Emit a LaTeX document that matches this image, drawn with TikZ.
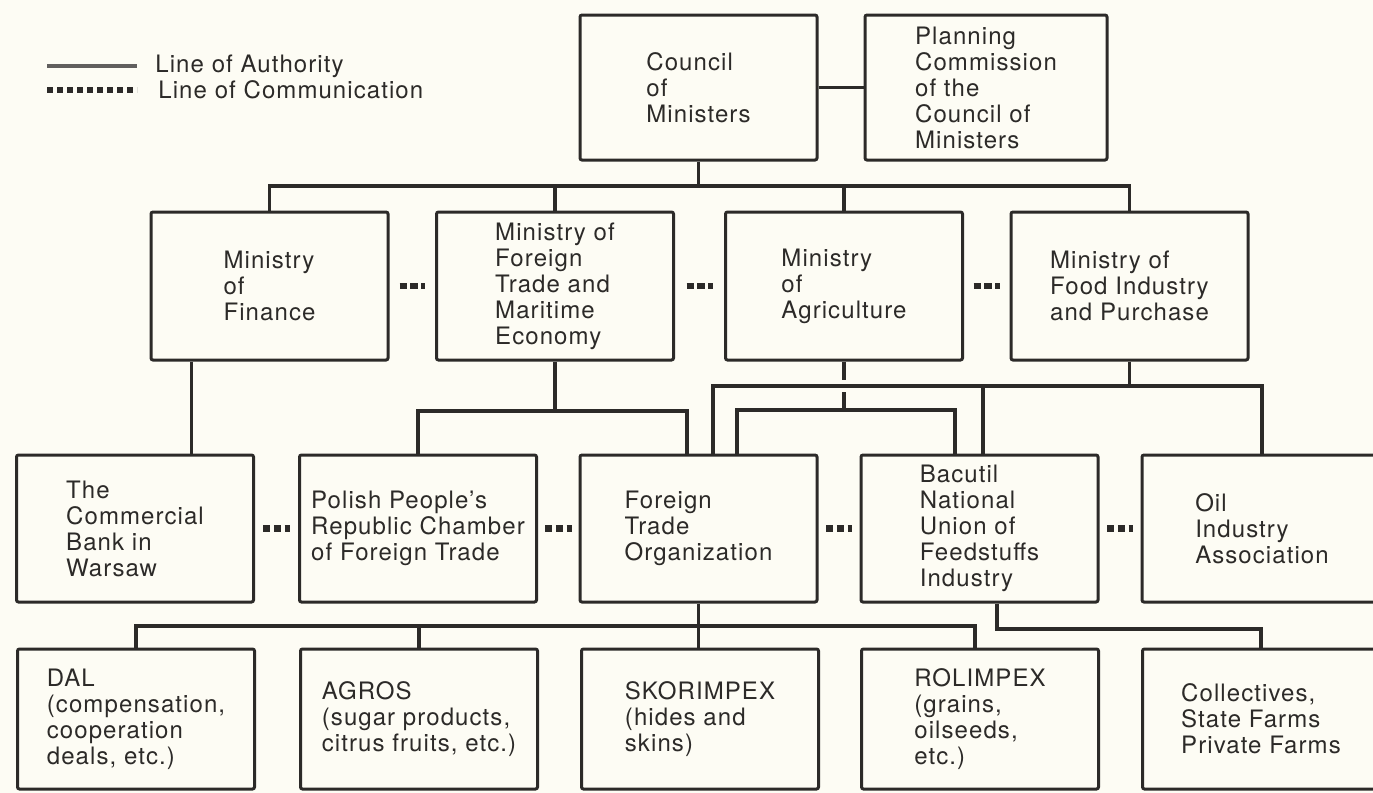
\documentclass[tikz,border=0pt]{standalone}
\usepackage{fontspec}
\setmainfont{TeX Gyre Heros}[LetterSpace=4.5]
\usetikzlibrary{calc}

\definecolor{paper}{RGB}{253,252,244}
\definecolor{ink}{RGB}{44,42,40}

\tikzset{
  box/.style={draw=ink, text=ink, line width=1.5pt, rounded corners=1pt,
    align=left, minimum width=118.5pt, inner sep=0pt},
  auth/.style={draw=ink, line width=1.7pt},
  comm/.style={draw=ink, line width=3.2pt, dash pattern=on 3.6pt off 1.8pt,
    shorten <=#1, shorten >=#1},
  comm/.default=0pt,
}

\begin{document}
\begin{tikzpicture}[x=0.5pt,y=-0.5pt,font=\fontsize{12}{13}\selectfont]

      \fill[paper] (0,0) rectangle (1373,793);
      \useasboundingbox (0,0) rectangle (1373,793);

      % key
      \begin{scope}[every node/.style={anchor=west, inner sep=0pt, text=ink}]
        \node (authkey) at (155,66) {Line of Authority};
        \node (commkey) at (158,90) {Line of Communication};
      \end{scope}
      \coordinate (authend) at (47,66);
      \coordinate (commend) at (47,90);
      \draw[auth, line width=2.4pt, draw=ink!75] (authend) -- ([xshift=-9pt]authkey.west);
      \draw[comm, line width=2.6pt, dash pattern=on 3pt off 2pt] (commend) -- ([xshift=-10.5pt]commkey.west);

      \begin{scope}[every node/.style={box, minimum height=72.5pt}]
        \node (council)  at (698.5,87.5) {Council\\of\\Ministers};
        \node[minimum width=121pt] (planning) at (986,87.5)
          {Planning\\Commission\\of the\\Council of\\Ministers};
      \end{scope}

      \begin{scope}[every node/.style={box, minimum height=74pt}]
        \node (finance) at (269.5,286) {Ministry\\of\\Finance};
        \node (foreign) at (555,286)   {Ministry of\\Foreign\\Trade and\\Maritime\\Economy};
        \node (agri)    at (844,286)   {Ministry\\of\\Agriculture};
        \node (food)    at (1129.5,286) {Ministry of\\Food Industry\\and Purchase};
      \end{scope}

      \begin{scope}[every node/.style={box, minimum height=73.5pt}]
        \node (bank)    at (135,528.5)   {The\\Commercial\\Bank in\\Warsaw};
        \node (chamber) at (418,528.5)   {Polish People's\\Republic Chamber\\of Foreign Trade};
        \node (fto)     at (698.5,528.5) {Foreign\\Trade\\Organization};
        \node (bacutil) at (979.5,528.5) {Bacutil\\National\\Union of\\Feedstuffs\\Industry};
        \node[minimum width=120pt] (oil) at (1262,528.5) {Oil\\Industry\\Association};
      \end{scope}

      \begin{scope}[every node/.style={box, minimum height=70pt}]
        \node (dal)       at (136,719)  {DAL\\(compensation,\\cooperation\\deals, etc.)};
        \node (agros)     at (419,719)  {AGROS\\(sugar products,\\citrus fruits, etc.)};
        \node (skorimpex) at (700,719)  {SKORIMPEX\\(hides and\\skins)};
        \node (rolimpex)  at (980,719)  {ROLIMPEX\\(grains,\\oilseeds,\\etc.)};
        \node (farms)     at (1261,719) {Collectives,\\State Farms\\Private Farms};
      \end{scope}

      \coordinate (bus1) at (0,186);
      \coordinate (bus2) at (0,411);
      \coordinate (bus3) at (0,386);
      \coordinate (bus4) at (0,410);
      \coordinate (bus5) at (0,626);
      \coordinate (bus6) at (0,629);

      % authority
      \draw[auth] (council) -- (planning);
      \draw[auth] (council.south) -- (council.south |- bus1);
      \draw[auth] (finance.north) |- (food.north |- bus1) -- (food.north);
      \foreach \m in {foreign,agri}
        \draw[auth] (\m.north) -- (\m.north |- bus1);

      \draw[auth] ([xshift=21pt]finance.south west) -- ([xshift=21pt]finance.south west |- bank.north);

      \draw[auth] (foreign.south) -- (foreign.south |- bus2);
      \draw[auth] (chamber.north) |- ([xshift=-5.75pt]fto.north |- bus2) -- ([xshift=-5.75pt]fto.north);

      \draw[auth] (food.south) -- (food.south |- bus3);
      \draw[auth] ([xshift=7.25pt]fto.north) |- (oil.north |- bus3) -- (oil.north);
      \draw[auth] ([xshift=1.75pt]bacutil.north) -- ([xshift=1.75pt]bacutil.north |- bus3);

      \draw[auth] (agri.south) -- ([yshift=3pt]agri.south |- bus3);
      \draw[auth] ([yshift=-3pt]agri.south |- bus3) -- (agri.south |- bus4);
      \draw[auth] ([xshift=19.25pt]fto.north) |- ([xshift=-12.25pt]bacutil.north |- bus4)
        -- ([xshift=-12.25pt]bacutil.north);

      \draw[auth] (fto.south) -- (fto.south |- skorimpex.north);
      \draw[auth] (dal.north) |- ([xshift=-2.5pt]rolimpex.north |- bus5) -- ([xshift=-2.5pt]rolimpex.north);
      \draw[auth] (agros.north) -- (agros.north |- bus5);
      \draw[auth] ([xshift=8.75pt]bacutil.south) |- (farms.north |- bus6) -- (farms.north);

      % communication
      \path (finance) edge[comm=5pt]    (foreign);
      \path (foreign) edge[comm=5.75pt] (agri);
      \path (agri)    edge[comm=4.75pt] (food);
      \path (bank)    edge[comm=4pt]    (chamber);
      \path (chamber) edge[comm=3.5pt]  (fto);
      \path (fto)     edge[comm=3.75pt] (bacutil);
      \path (bacutil) edge[comm=3.75pt] (oil);

    \end{tikzpicture}
\end{document}
